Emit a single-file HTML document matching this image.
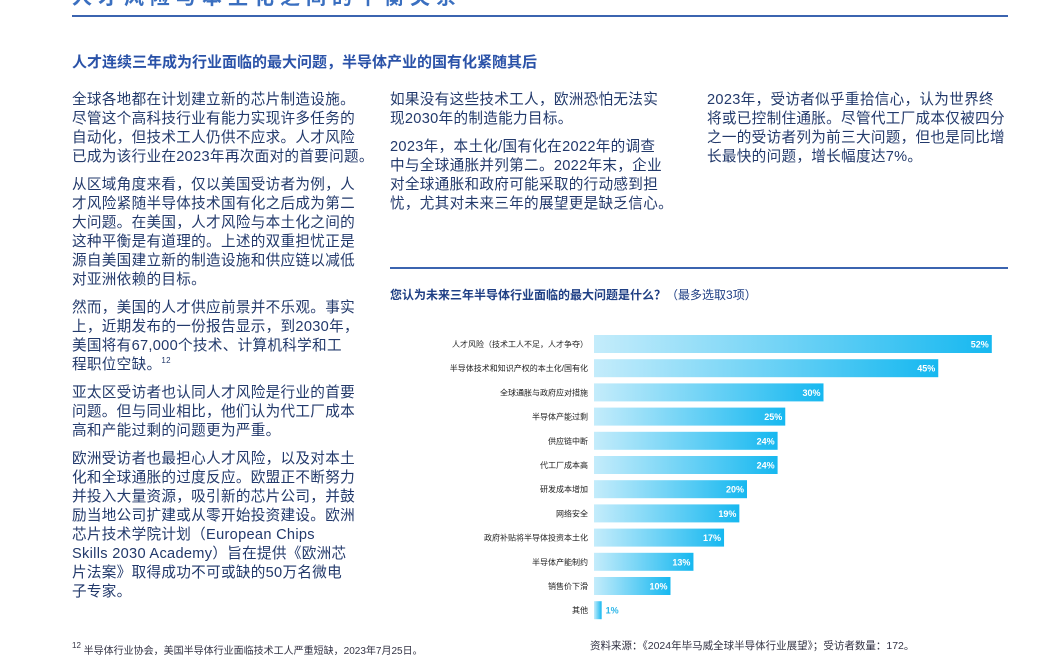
<!DOCTYPE html>
<html><head><meta charset="utf-8">
<style>
body{margin:0;width:1056px;height:654px;overflow:hidden;background:#fff;font-family:"Liberation Sans","Noto Sans CJK SC",sans-serif;color:#22396b;position:relative}
.abs{position:absolute}
.col{position:absolute;font-size:14.6px;line-height:19px;letter-spacing:0.3px;white-space:nowrap}
.col p{margin:0 0 9px 0}
sup{font-size:8px;line-height:0;vertical-align:6px}
</style></head><body>
<div class="abs" style="left:72px;top:-19px;font-size:20px;color:#3a6fc0;font-weight:bold;white-space:nowrap;letter-spacing:6px">人才风险与本土化之间的平衡关系</div>
<div class="abs" style="left:72px;top:15px;width:936px;height:2px;background:#3b64b0"></div>
<div class="abs" style="left:72px;top:51px;font-size:15px;font-weight:bold;color:#2a52a8;white-space:nowrap">人才连续三年成为行业面临的最大问题，半导体产业的国有化紧随其后</div>

<div class="col" style="left:72px;top:91px">
<p>全球各地都在计划建立新的芯片制造设施。<br>尽管这个高科技行业有能力实现许多任务的<br>自动化，但技术工人仍供不应求。人才风险<br>已成为该行业在2023年再次面对的首要问题。</p>
<p>从区域角度来看，仅以美国受访者为例，人<br>才风险紧随半导体技术国有化之后成为第二<br>大问题。在美国，人才风险与本土化之间的<br>这种平衡是有道理的。上述的双重担忧正是<br>源自美国建立新的制造设施和供应链以减低<br>对亚洲依赖的目标。</p>
<p>然而，美国的人才供应前景并不乐观。事实<br>上，近期发布的一份报告显示，到2030年，<br>美国将有67,000个技术、计算机科学和工<br>程职位空缺。<sup>12</sup></p>
<p>亚太区受访者也认同人才风险是行业的首要<br>问题。但与同业相比，他们认为代工厂成本<br>高和产能过剩的问题更为严重。</p>
<p>欧洲受访者也最担心人才风险，以及对本土<br>化和全球通胀的过度反应。欧盟正不断努力<br>并投入大量资源，吸引新的芯片公司，并鼓<br>励当地公司扩建或从零开始投资建设。欧洲<br>芯片技术学院计划（European Chips<br>Skills 2030 Academy）旨在提供《欧洲芯<br>片法案》取得成功不可或缺的50万名微电<br>子专家。</p>
</div>
<div class="col" style="left:390px;top:91px">
<p>如果没有这些技术工人，欧洲恐怕无法实<br>现2030年的制造能力目标。</p>
<p>2023年，本土化/国有化在2022年的调查<br>中与全球通胀并列第二。2022年末，企业<br>对全球通胀和政府可能采取的行动感到担<br>忧，尤其对未来三年的展望更是缺乏信心。</p>
</div>
<div class="col" style="left:707px;top:91px">
<p>2023年，受访者似乎重拾信心，认为世界终<br>将或已控制住通胀。尽管代工厂成本仅被四分<br>之一的受访者列为前三大问题，但也是同比增<br>长最快的问题，增长幅度达7%。</p>
</div>

<div class="abs" style="left:390px;top:267px;width:618px;height:2px;background:#3b64b0"></div>
<div class="abs" style="left:390px;top:286px;font-size:12px;font-weight:bold;color:#1f3f84;white-space:nowrap">您认为未来三年半导体行业面临的最大问题是什么？<span style="font-weight:normal">（最多选取3项）</span></div>

<svg class="abs" style="left:0;top:0" width="1056" height="654">
<defs><linearGradient id="g" x1="0" x2="1" y1="0" y2="0"><stop offset="0" stop-color="#c4ecfb"/><stop offset="1" stop-color="#16b8f0"/></linearGradient></defs>
<g id="bars"></g>
</svg>
<div class="abs" style="left:590px;top:638px;font-size:10.5px;color:#334;white-space:nowrap">资料来源：《2024年毕马威全球半导体行业展望》；受访者数量：172。</div>
<div class="abs" style="left:72px;top:642px;font-size:10px;color:#334;white-space:nowrap"><sup>12</sup> 半导体行业协会，美国半导体行业面临技术工人严重短缺，2023年7月25日。</div>
<script>
const categories=["人才风险（技术工人不足，人才争夺）","半导体技术和知识产权的本土化/国有化","全球通胀与政府应对措施","半导体产能过剩","供应链中断","代工厂成本高","研发成本增加","网络安全","政府补贴将半导体投资本土化","半导体产能制约","销售价下滑","其他"];
const values=[52,45,30,25,24,24,20,19,17,13,10,1];
const x0=594,pxPer=7.65,y0=335,pitch=24.2,bh=18;
const xs=v=>x0+v*pxPer;
const g=document.getElementById('bars');
const NS='http://www.w3.org/2000/svg';
categories.forEach((c,i)=>{
 const y=y0+i*pitch,v=values[i];
 const r=document.createElementNS(NS,'rect');
 
 
 r.setAttribute('x',x0);r.setAttribute('y',y);r.setAttribute('width',xs(v)-x0);r.setAttribute('height',bh);r.setAttribute('fill','url(#g)');
 g.appendChild(r);
 const t=document.createElementNS(NS,'text');
 
 
 t.setAttribute('x',588);t.setAttribute('y',y+bh/2+3);t.setAttribute('text-anchor','end');t.setAttribute('font-size','8');t.setAttribute('fill','#222');
 t.textContent=c;g.appendChild(t);
 const l=document.createElementNS(NS,'text');
 
 
 const inside=v>=5;
 l.setAttribute('x',inside?xs(v)-3:xs(v)+4);l.setAttribute('y',y+bh/2+3.5);l.setAttribute('text-anchor',inside?'end':'start');
 l.setAttribute('font-size','9');l.setAttribute('font-weight','bold');l.setAttribute('fill',inside?'#fff':'#2bb6e8');
 l.textContent=v+'%';g.appendChild(l);
});
</script>
</body></html>
